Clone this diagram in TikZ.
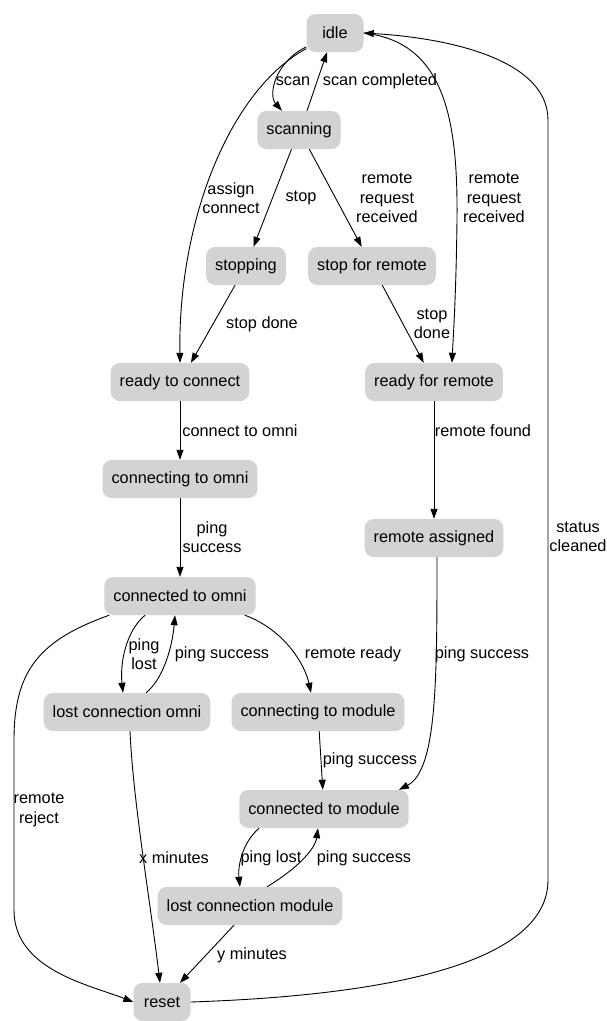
\documentclass[tikz,border=0pt]{standalone}
\usepackage{fontspec}
\setmainfont{Liberation Sans}
\usetikzlibrary{arrows.meta}
\definecolor{stategray}{RGB}{211,211,211}

\begin{document}
\begin{tikzpicture}[x=1pt,y=-1pt,
	state/.style={fill=stategray, rounded corners=9pt, minimum width=57pt, minimum height=38pt, inner xsep=9pt, font=\fontsize{16.3}{19.5}\selectfont},
	lbl/.style={align=center, inner sep=0pt, font=\fontsize{16.3}{19.5}\selectfont},
	trans/.style={draw, line width=0.9pt, -{Triangle[length=10pt,width=7pt]}}]
	\useasboundingbox (0,0) rectangle (607,1021);
	
	% States
	\node[state] (idle) at (335,33) {idle};
	\node[state] (scanning) at (299,130) {scanning};
	\node[state] (stopping) at (246,266) {stopping};
	\node[state] (stopremote) at (372,266) {stop for remote};
	\node[state] (readyconnect) at (180,382) {ready to connect};
	\node[state] (readyremote) at (434,382) {ready for remote};
	\node[state] (connomni) at (180,479) {connecting to omni};
	\node[state] (remassigned) at (434,538) {remote assigned};
	\node[state] (connectedomni) at (180,596) {connected to omni};
	\node[state] (lostomni) at (127,712) {lost connection omni};
	\node[state] (connmodule) at (318,712) {connecting to module};
	\node[state] (connectedmodule) at (324,809) {connected to module};
	\node[state] (lostmodule) at (250,906) {lost connection module};
	\node[state] (reset) at (162,1002) {reset};
	
	% Scan
	\draw[trans] (idle) .. controls (275,62) and (268,95) .. (scanning);
	\draw[trans] ([xshift=8]scanning.north) -- ([xshift=-8]idle.south);
	\node[lbl] (lscan) at (293,81) {scan};
	\node[lbl] (lscandone) at (380,81) {scan completed};
	
	% Stop
	\draw[trans] (scanning) -- (stopping);
	\draw[trans] (scanning) -- (stopremote);
	\draw[trans] (stopping) -- (readyconnect);
	\draw[trans] (stopremote) -- (readyremote);
	\node[lbl] (lstop) at (301,198) {stop};
	\node[lbl] (lremreq) at (387,198) {remote\\request\\received};
	\node[lbl] (lstopdone) at (262,324) {stop done};
	\node[lbl] (lstopdoner) at (432,324) {stop\\done};
	
	% Idle direct
	\draw[trans] (idle) .. controls (230,90) and (178,220) .. (readyconnect.north);
	\draw[trans] (idle.east) .. controls (445,42) and (458,120) .. (457,220) .. controls (456,300) and (453,340) .. ([xshift=18]readyremote.north);
	\node[lbl] (lassign) at (231,198) {assign\\connect};
	\node[lbl] (lremreqi) at (494,198) {remote\\request\\received};
	
	% Omni
	\draw[trans] (readyconnect) -- (connomni);
	\draw[trans] (connomni) -- (connectedomni);
	\node[lbl] (lconnomni) at (240,431) {connect to omni};
	\node[lbl] (lpingomni) at (212,537) {ping\\success};
	
	% Remote
	\draw[trans] (readyremote) -- (remassigned);
	\draw[trans] ([xshift=3]remassigned.south) .. controls (437,680) and (437,770) .. ([xshift=-10]connectedmodule.north east);
	\node[lbl] (lremfound) at (483,431) {remote found};
	\node[lbl] (lpingrem) at (482,654) {ping success};
	
	% Omni lost
	\draw[trans] ([xshift=-35]connectedomni.south) .. controls (125,632) and (120,665) .. ([xshift=-4]lostomni.north);
	\draw[trans] ([xshift=19]lostomni.north) .. controls (162,680) and (172,650) .. ([xshift=-5]connectedomni.south);
	\node[lbl] (lomnilost) at (144,654) {ping\\lost};
	\node[lbl] (lomniback) at (222,654) {ping success};
	
	% Module
	\draw[trans] ([xshift=-11]connectedomni.south east) .. controls (285,630) and (305,665) .. ([xshift=-7]connmodule.north);
	\draw[trans] (connmodule) -- (connectedmodule);
	\node[lbl] (lremready) at (353,654) {remote ready};
	\node[lbl] (lpingmod) at (370,760) {ping success};
	
	% Module lost
	\draw[trans] ([xshift=-65]connectedmodule.south) .. controls (240,845) and (238,870) .. ([xshift=-10]lostmodule.north);
	\draw[trans] ([xshift=17]lostmodule.north) .. controls (295,870) and (315,850) .. ([xshift=-6]connectedmodule.south);
	\node[lbl] (lmodlost) at (271,858) {ping lost};
	\node[lbl] (lmodback) at (364,858) {ping success};
	
	% Reset
	\draw[trans] ([xshift=5]connectedomni.south west) .. controls (40,640) and (14,670) .. (14,740) -- (14,910) .. controls (14,970) and (90,985) .. (reset.west);
	\draw[trans] ([xshift=3]lostomni.south) .. controls (133,800) and (150,900) .. ([xshift=-2]reset.north);
	\draw[trans] ([xshift=-16]lostmodule.south) -- (reset);
	\draw[trans] (reset.east) .. controls (400,995) and (548,960) .. (548,880) -- (548,120) .. controls (548,60) and (450,38) .. (idle.east);
	\node[lbl] (lreject) at (39,810) {remote\\reject};
	\node[lbl] (lxmin) at (174,858) {x minutes};
	\node[lbl] (lymin) at (252,955) {y minutes};
	\node[lbl] (lclean) at (578,537) {status\\cleaned};
\end{tikzpicture}
\end{document}
